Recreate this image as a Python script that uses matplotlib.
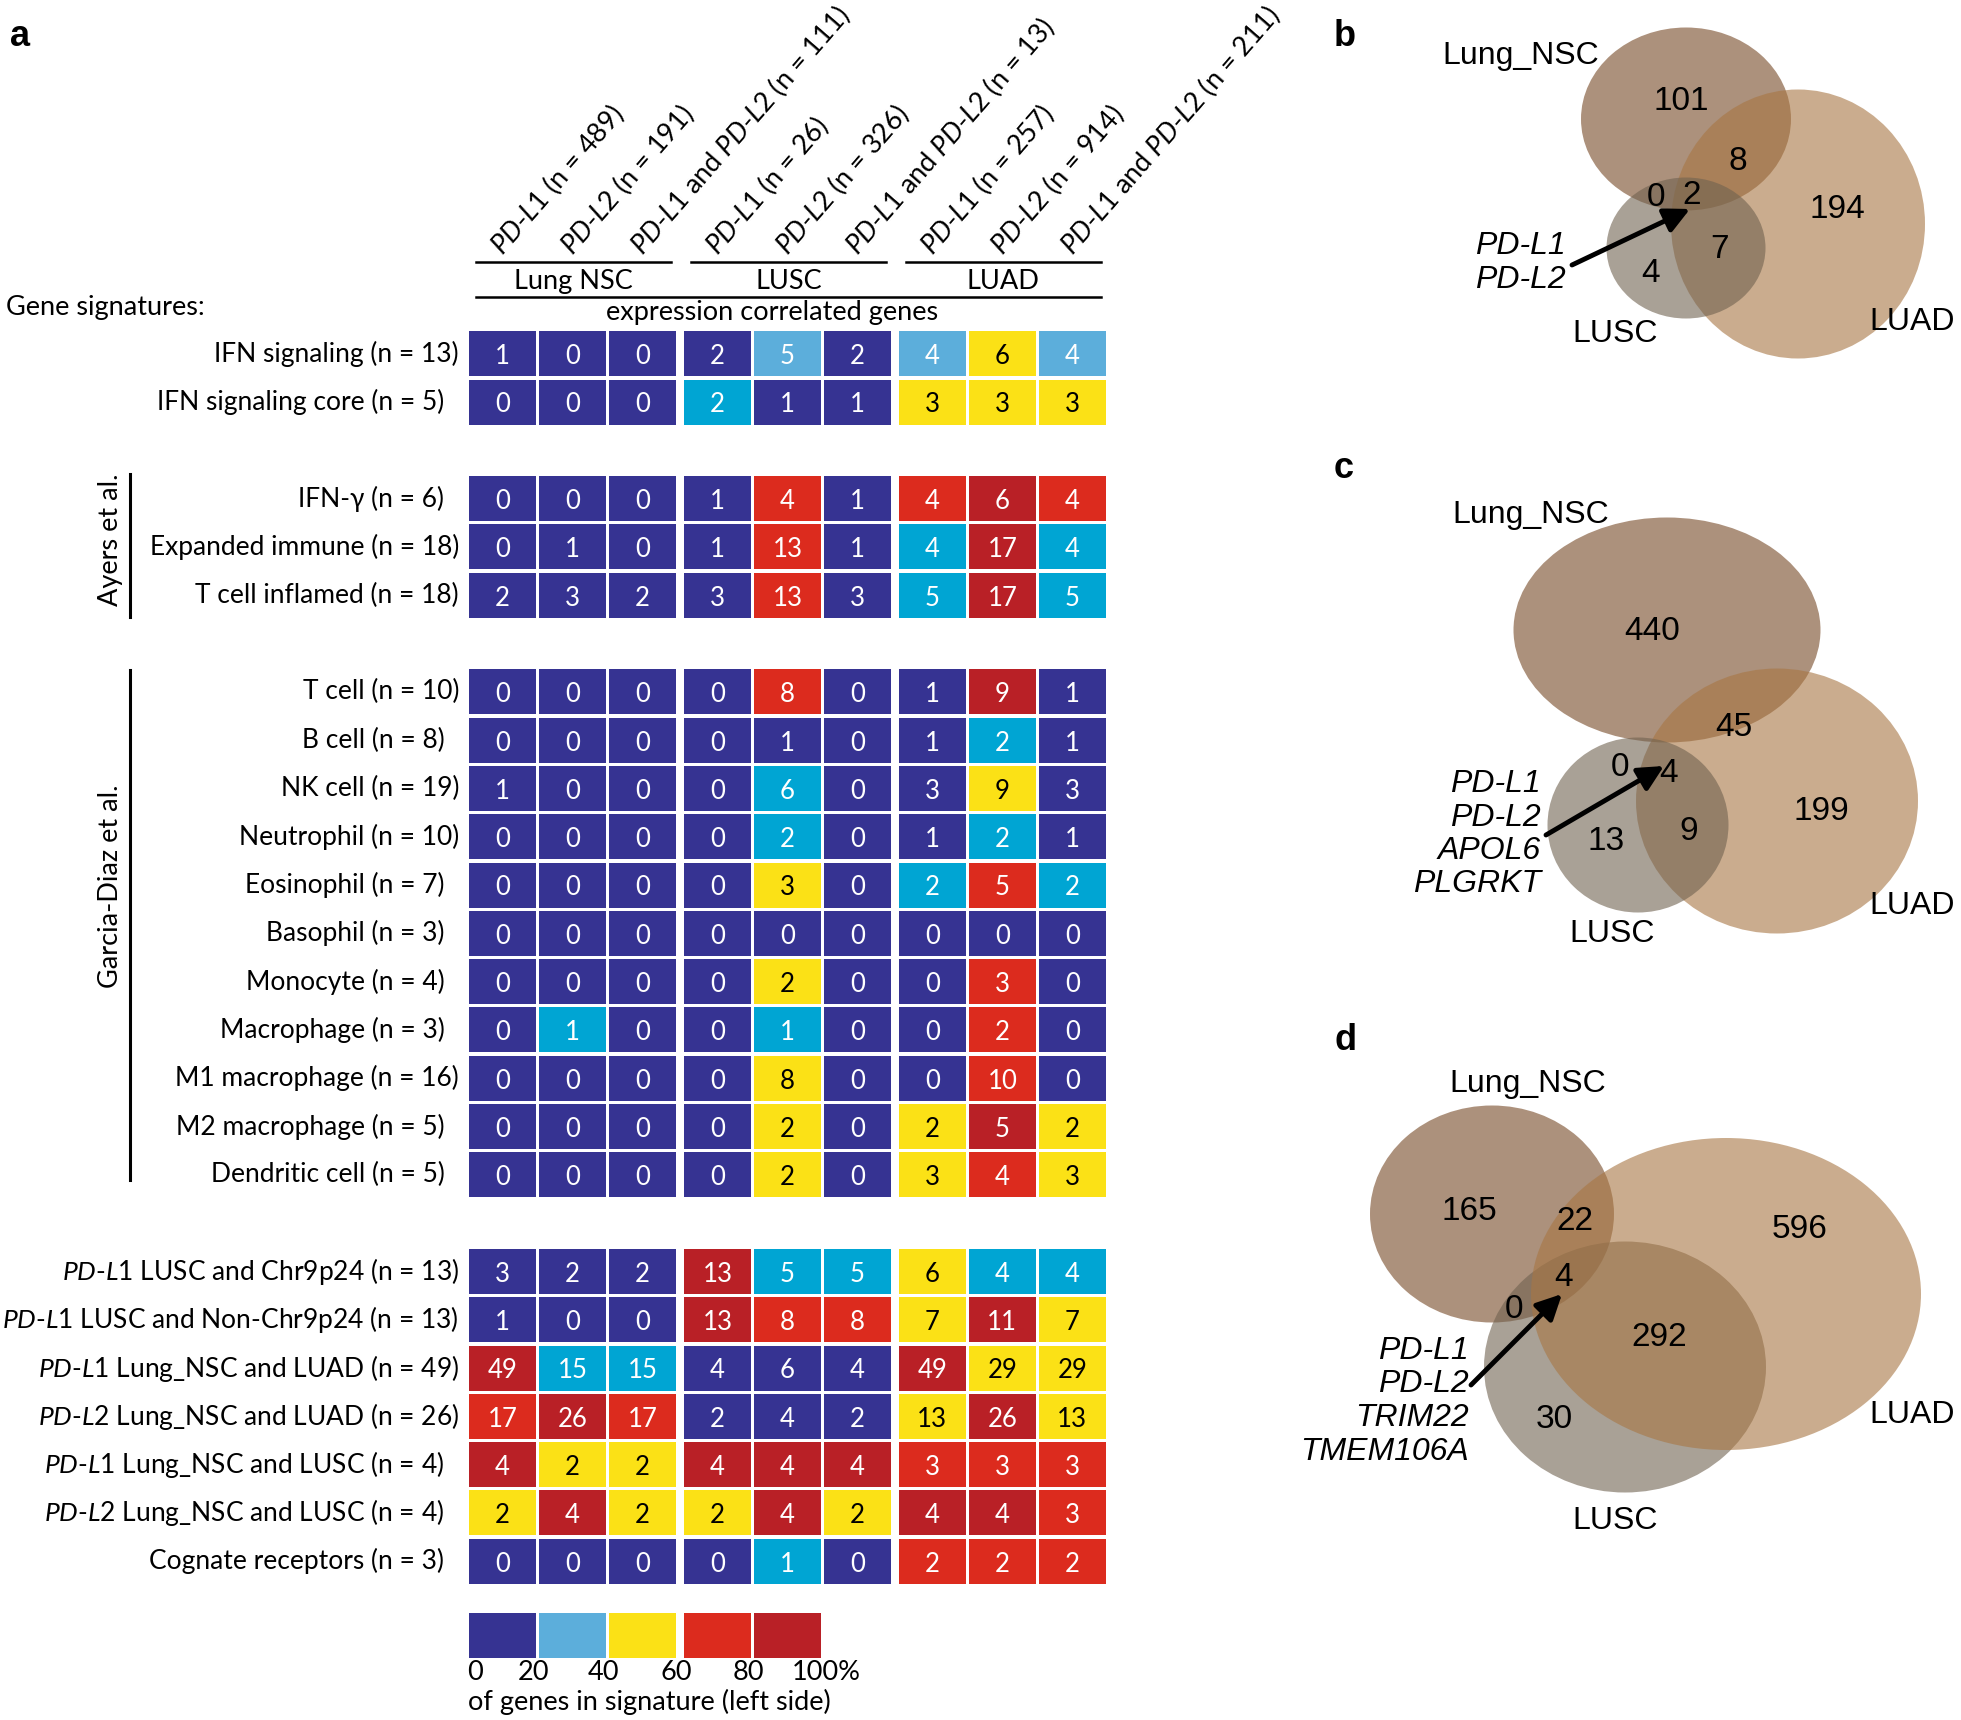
import numpy as np
import matplotlib
matplotlib.use('Agg')
import matplotlib.pyplot as plt
from matplotlib.patches import Rectangle, Ellipse

plt.rcParams['font.family'] = ['Lato', 'DejaVu Sans']
plt.rcParams['mathtext.fontset'] = 'custom'
plt.rcParams['mathtext.rm'] = 'Lato'
plt.rcParams['mathtext.it'] = 'Lato:italic'

# ---- panel a data ----
groups = ['Lung NSC', 'LUSC', 'LUAD']
col_genes = ['PD-L1', 'PD-L2', 'PD-L1 and PD-L2'] * 3
col_n = [489, 191, 111, 26, 326, 13, 257, 914, 211]

row_blocks = [2, 3, 11, 7]
row_names = ['IFN signaling', 'IFN signaling core',
             'IFN-\u03b3', 'Expanded immune', 'T cell inflamed',
             'T cell', 'B cell', 'NK cell', 'Neutrophil', 'Eosinophil', 'Basophil',
             'Monocyte', 'Macrophage', 'M1 macrophage', 'M2 macrophage', 'Dendritic cell',
             'PD-L1 LUSC and Chr9p24', 'PD-L1 LUSC and Non-Chr9p24',
             'PD-L1 Lung_NSC and LUAD', 'PD-L2 Lung_NSC and LUAD',
             'PD-L1 Lung_NSC and LUSC', 'PD-L2 Lung_NSC and LUSC', 'Cognate receptors']
row_n = [13, 5, 6, 18, 18, 10, 8, 19, 10, 7, 3, 4, 3, 16, 5, 5, 13, 13, 49, 26, 4, 4, 3]

values = np.array([
    [1, 0, 0, 2, 5, 2, 4, 6, 4],
    [0, 0, 0, 2, 1, 1, 3, 3, 3],
    [0, 0, 0, 1, 4, 1, 4, 6, 4],
    [0, 1, 0, 1, 13, 1, 4, 17, 4],
    [2, 3, 2, 3, 13, 3, 5, 17, 5],
    [0, 0, 0, 0, 8, 0, 1, 9, 1],
    [0, 0, 0, 0, 1, 0, 1, 2, 1],
    [1, 0, 0, 0, 6, 0, 3, 9, 3],
    [0, 0, 0, 0, 2, 0, 1, 2, 1],
    [0, 0, 0, 0, 3, 0, 2, 5, 2],
    [0, 0, 0, 0, 0, 0, 0, 0, 0],
    [0, 0, 0, 0, 2, 0, 0, 3, 0],
    [0, 1, 0, 0, 1, 0, 0, 2, 0],
    [0, 0, 0, 0, 8, 0, 0, 10, 0],
    [0, 0, 0, 0, 2, 0, 2, 5, 2],
    [0, 0, 0, 0, 2, 0, 3, 4, 3],
    [3, 2, 2, 13, 5, 5, 6, 4, 4],
    [1, 0, 0, 13, 8, 8, 7, 11, 7],
    [49, 15, 15, 4, 6, 4, 49, 29, 29],
    [17, 26, 17, 2, 4, 2, 13, 26, 13],
    [4, 2, 2, 4, 4, 4, 3, 3, 3],
    [2, 4, 2, 2, 4, 2, 4, 4, 3],
    [0, 0, 0, 0, 1, 0, 2, 2, 2],
])

# colour class: 0 navy, 1 light blue, 2 cyan, 3 yellow, 4 red, 5 dark red
bins = np.array([
    [0, 0, 0, 0, 1, 0, 1, 3, 1],
    [0, 0, 0, 2, 0, 0, 3, 3, 3],
    [0, 0, 0, 0, 4, 0, 4, 5, 4],
    [0, 0, 0, 0, 4, 0, 2, 5, 2],
    [0, 0, 0, 0, 4, 0, 2, 5, 2],
    [0, 0, 0, 0, 4, 0, 0, 5, 0],
    [0, 0, 0, 0, 0, 0, 0, 2, 0],
    [0, 0, 0, 0, 2, 0, 0, 3, 0],
    [0, 0, 0, 0, 2, 0, 0, 2, 0],
    [0, 0, 0, 0, 3, 0, 2, 4, 2],
    [0, 0, 0, 0, 0, 0, 0, 0, 0],
    [0, 0, 0, 0, 3, 0, 0, 4, 0],
    [0, 2, 0, 0, 2, 0, 0, 4, 0],
    [0, 0, 0, 0, 3, 0, 0, 4, 0],
    [0, 0, 0, 0, 3, 0, 3, 5, 3],
    [0, 0, 0, 0, 3, 0, 3, 4, 3],
    [0, 0, 0, 5, 2, 2, 3, 2, 2],
    [0, 0, 0, 5, 4, 4, 3, 5, 3],
    [5, 2, 2, 0, 0, 0, 5, 3, 3],
    [4, 5, 4, 0, 0, 0, 3, 5, 3],
    [5, 3, 3, 5, 5, 5, 4, 4, 4],
    [3, 5, 3, 3, 5, 3, 5, 5, 4],
    [0, 0, 0, 0, 2, 0, 4, 4, 4],
])
bin_colors = ['#363392', '#5CAEDB', '#00A5D3', '#FBE116', '#DC2B1E', '#B92026']
legend_bins = [0, 1, 3, 4, 5]
legend_ticks = ['0', '20', '40', '60', '80', '100%']

# ---- Venn data (b, c, d) ----
# order: NSC only, NSC&LUAD, NSC&LUSC, all three, LUAD only, LUAD&LUSC, LUSC only
venn_b = [101, 8, 0, 2, 194, 7, 4]
venn_c = [440, 45, 0, 4, 199, 9, 13]
venn_d = [165, 22, 0, 4, 596, 292, 30]
genes_b = ['PD-L1', 'PD-L2']
genes_c = ['PD-L1', 'PD-L2', 'APOL6', 'PLGRKT']
genes_d = ['PD-L1', 'PD-L2', 'TRIM22', 'TMEM106A']


def ital(s):
    s = s.replace('PD-L1', r'$\mathit{PD}$-$\mathit{L1}$')
    return s.replace('PD-L2', r'$\mathit{PD}$-$\mathit{L2}$')


W, H = 1961, 1720
fig = plt.figure(figsize=(W / 100, H / 100), dpi=100)
fs = 19.5
fs_row = 19.0

# overlay axes in pixel units for the Venn panels and free text
ov = fig.add_axes([0, 0, 1, 1])
ov.set_xlim(0, W)
ov.set_ylim(H, 0)
ov.axis('off')

# heatmap axes
x0, xu = 502.5, 70.0
y0, yu = 353.75, 48.3
xl, xr = -0.5, 8.64
yt, yb = -0.5, 25.5
ax = fig.add_axes([(x0 + xl * xu) / W, 1 - (y0 + yb * yu) / H,
                   (xr - xl) * xu / W, (yb - yt) * yu / H])
ax.set_xlim(xl, xr)
ax.set_ylim(yb, yt)
ax.axis('off')

xpos = [j + 0.07 * (j // 3) for j in range(9)]
ypos = []
y = 0
for size in row_blocks:
    ypos += list(range(y, y + size))
    y += size + 1

cw, ch = 0.965, 0.93
for i, yy in enumerate(ypos):
    for j, xx in enumerate(xpos):
        b = bins[i, j]
        ax.add_patch(Rectangle((xx - cw / 2, yy - ch / 2), cw, ch,
                               facecolor=bin_colors[b], edgecolor='none', clip_on=False))
        ax.text(xx, yy + 0.06, str(values[i, j]), ha='center', va='center', fontsize=18.5,
                color='black' if b == 3 else 'white')
    lx = -0.62 if row_n[i] >= 10 else -0.83
    ax.text(lx, yy, ital(f'{row_names[i]} (n = {row_n[i]})'), ha='right', va='center',
            fontsize=fs_row)

# column headers
for j, xx in enumerate(xpos):
    ax.text(xx, -2.03, ital(f'{col_genes[j]} (n = {col_n[j]})'), rotation=49,
            rotation_mode='anchor', ha='left', va='baseline', fontsize=fs)

# group brackets
for g, name in enumerate(groups):
    a, b = xpos[3 * g] - 0.38, xpos[3 * g + 2] + 0.41
    ax.plot([a, b], [-1.89, -1.89], color='black', lw=1.8, clip_on=False)
    ax.text((a + b) / 2, -1.5, name, ha='center', va='center', fontsize=fs)
ax.plot([xpos[0] - 0.38, xpos[8] + 0.41], [-1.165, -1.165], color='black', lw=1.8, clip_on=False)
ax.text(3.85, -0.86, 'expression correlated genes', ha='center', va='center', fontsize=fs)
ov.text(6, 307, 'Gene signatures:', ha='left', va='center', fontsize=fs)

# study brackets
ax.plot([-5.32, -5.32], [ypos[2] - 0.5, ypos[4] + 0.45], color='black', lw=2.2, clip_on=False)
ax.text(-5.6, (ypos[2] + ypos[4]) / 2 - 0.14, 'Ayers et al.', rotation=90, ha='center',
        va='center', fontsize=fs)
ax.plot([-5.32, -5.32], [ypos[5] - 0.45, ypos[15] + 0.1], color='black', lw=2.2, clip_on=False)
ax.text(-5.6, (ypos[5] + ypos[15]) / 2 - 0.97, 'Garcia-Diaz et al.', rotation=90, ha='center',
        va='center', fontsize=fs)

# colour legend
ly = 26.53
for k, b in enumerate(legend_bins):
    ax.add_patch(Rectangle((xpos[k] - cw / 2, ly - ch / 2), cw, ch,
                           facecolor=bin_colors[b], edgecolor='none', clip_on=False))
tick_x = [xpos[0] - 0.5] + [(xpos[k - 1] + xpos[k]) / 2 - 0.06 for k in range(1, 5)] + [xpos[4] + 0.55]
for k, t in enumerate(legend_ticks):
    ax.text(tick_x[k], 27.3, t, ha='left' if k == 0 else 'center', va='center', fontsize=fs)
ax.text(xpos[0] - 0.5, 27.92, 'of genes in signature (left side)', ha='left', va='center',
        fontsize=fs)

# ---- Venn diagrams ----
vfont = 'Liberation Sans'
set_colors = {'nsc': '#764825', 'luad': '#A87643', 'lusc': '#706250'}

panels = [
    dict(letter='b', lpos=(1334, 37), counts=venn_b, genes=genes_b,
         ell={'nsc': ((1686, 119), 210, 183), 'luad': ((1798, 224), 254, 269),
              'lusc': ((1686, 248), 159, 141)},
         order=['nsc', 'luad', 'lusc'],
         tpos=[(1681, 102), (1738, 162), (1656, 197), (1692, 195), (1837, 210),
               (1719, 250), (1651, 274)],
         nsc_lab=(1521, 56), lusc_lab=(1615, 334), luad_lab=(1912, 322),
         gene_xy=(1566, 246), arrow=((1572, 265), (1690, 209))),
    dict(letter='c', lpos=(1334, 469), counts=venn_c, genes=genes_c,
         ell={'nsc': ((1667, 630), 307, 225), 'luad': ((1777, 801), 282, 265),
              'lusc': ((1638, 825), 181, 175)},
         order=['nsc', 'luad', 'lusc'],
         tpos=[(1652, 632), (1734, 727), (1620, 767), (1669, 774), (1821, 812),
               (1689, 832), (1606, 842)],
         nsc_lab=(1531, 515), lusc_lab=(1612, 934), luad_lab=(1912, 906),
         gene_xy=(1541, 784), arrow=((1546, 835), (1664, 766))),
    dict(letter='d', lpos=(1334, 1040), counts=venn_d, genes=genes_d,
         ell={'nsc': ((1492, 1214), 244, 217), 'luad': ((1726, 1294), 390, 312),
              'lusc': ((1625, 1367), 282, 251)},
         order=['nsc', 'lusc', 'luad'],
         tpos=[(1469, 1212), (1575, 1221), (1514, 1310), (1564, 1278), (1800, 1229),
               (1659, 1337), (1554, 1420)],
         nsc_lab=(1528, 1084), lusc_lab=(1615, 1521), luad_lab=(1912, 1415),
         gene_xy=(1469, 1351), arrow=((1471, 1385), (1562, 1294))),
]

for p in panels:
    for key in p['order']:
        c, w, h = p['ell'][key]
        ov.add_patch(Ellipse(c, w, h, facecolor=set_colors[key], alpha=0.6, edgecolor='none'))
    for cnt, (tx, ty) in zip(p['counts'], p['tpos']):
        ov.text(tx, ty, str(cnt), ha='center', va='center', fontsize=24, family=vfont)
    ov.text(*p['nsc_lab'], 'Lung_NSC', ha='center', va='center', fontsize=23, family=vfont)
    ov.text(*p['lusc_lab'], 'LUSC', ha='center', va='center', fontsize=23, family=vfont)
    ov.text(*p['luad_lab'], 'LUAD', ha='center', va='center', fontsize=23, family=vfont)
    gx, gy = p['gene_xy']
    for k, gname in enumerate(p['genes']):
        ov.text(gx, gy + 33.5 * k, gname, ha='right', va='center', fontsize=23, family=vfont,
                style='italic')
    tail, tip = p['arrow']
    ov.annotate('', xy=tip, xytext=tail,
                arrowprops=dict(arrowstyle='-|>', lw=3.5, color='black', mutation_scale=38,
                                shrinkA=0, shrinkB=0))
    ov.text(*p['lpos'], p['letter'], ha='left', va='center', fontsize=26, fontweight='bold',
            family=vfont)

ov.text(10, 37, 'a', ha='left', va='center', fontsize=26, fontweight='bold', family=vfont)

fig.savefig('out.png', dpi=100)
